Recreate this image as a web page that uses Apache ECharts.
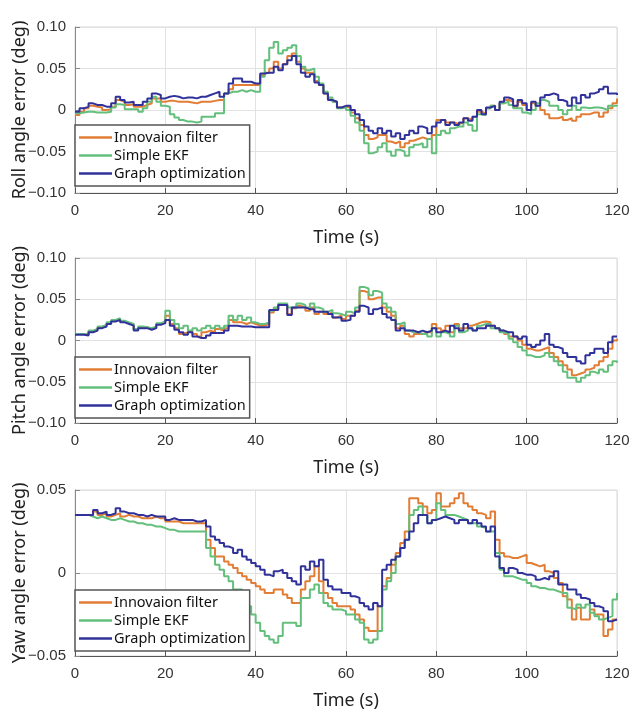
<!DOCTYPE html>
<html>
<head>
<meta charset="utf-8">
<script src="https://cdn.jsdelivr.net/npm/echarts@6/dist/echarts.min.js"></script>
<style>
  html, body { margin: 0; padding: 0; background: #fff; }
  #chart { width: 632px; height: 711px; }
</style>
</head>
<body>
<div id="chart"></div>
<script>
// time stamps (s), one sample per second
var times = [];
for (var i = 0; i <= 120; i++) times.push(i);

var seriesNames = ['Innovaion filter', 'Simple EKF', 'Graph optimization'];
var yTitles = ['Roll angle error (deg)', 'Pitch angle error (deg)', 'Yaw angle error (deg)'];

// roll
var rollInnov = [
  -0.006,-0.002,0.002,0.005,0.004,0.003,0.000,0.001,0.004,0.012,
  0.010,0.006,0.007,0.004,0.004,0.006,0.008,0.014,0.014,0.010,
  0.011,0.011,0.010,0.010,0.010,0.009,0.008,0.010,0.010,0.010,
  0.011,0.012,0.012,0.020,0.025,0.030,0.030,0.030,0.030,0.030,
  0.030,0.042,0.045,0.050,0.058,0.050,0.055,0.065,0.068,0.058,
  0.050,0.045,0.045,0.035,0.030,0.020,0.013,0.010,0.003,0.004,
  0.003,-0.003,-0.010,-0.018,-0.030,-0.035,-0.033,-0.030,-0.030,-0.038,
  -0.040,-0.038,-0.045,-0.040,-0.037,-0.035,-0.033,-0.035,-0.035,-0.030,
  -0.012,-0.012,-0.015,-0.015,-0.017,-0.015,-0.010,-0.012,-0.008,-0.002,
  -0.004,0.002,0.005,0.000,0.008,0.012,0.010,0.004,0.010,0.006,
  0.000,0.008,0.005,0.000,-0.005,-0.010,-0.010,-0.008,-0.012,-0.010,
  -0.013,-0.008,-0.005,-0.005,-0.003,-0.003,-0.008,-0.003,0.002,0.008,
  0.014
];
var rollEkf = [
  -0.004,-0.003,-0.002,-0.002,-0.003,-0.003,-0.003,-0.002,0.003,0.007,
  0.006,0.001,0.001,0.001,-0.002,0.002,0.010,0.016,0.010,0.005,
  0.004,-0.005,-0.009,-0.012,-0.014,-0.014,-0.015,-0.014,-0.008,-0.008,
  -0.008,-0.004,-0.004,0.020,0.022,0.022,0.024,0.022,0.024,0.022,
  0.022,0.040,0.060,0.075,0.082,0.068,0.072,0.075,0.078,0.065,
  0.052,0.048,0.050,0.040,0.032,0.022,0.015,0.010,0.002,0.003,
  0.000,-0.007,-0.015,-0.025,-0.040,-0.052,-0.050,-0.045,-0.040,-0.050,
  -0.055,-0.048,-0.050,-0.055,-0.045,-0.042,-0.040,-0.045,-0.035,-0.052,
  -0.030,-0.025,-0.028,-0.022,-0.020,-0.020,-0.015,-0.018,-0.025,-0.005,
  -0.006,0.002,0.005,0.000,0.008,0.010,0.006,0.002,0.002,-0.003,
  -0.005,0.000,0.008,0.012,0.010,0.005,0.005,0.000,-0.005,0.000,
  0.005,0.000,0.003,0.002,0.003,0.003,0.002,0.000,0.005,0.005,
  0.006
];
var rollGraph = [
  -0.002,0.002,0.004,0.008,0.006,0.006,0.004,0.004,0.008,0.016,
  0.012,0.009,0.010,0.006,0.006,0.010,0.014,0.020,0.018,0.014,
  0.016,0.017,0.016,0.014,0.015,0.015,0.014,0.016,0.016,0.018,
  0.020,0.022,0.016,0.020,0.032,0.038,0.038,0.034,0.034,0.032,
  0.032,0.044,0.045,0.045,0.052,0.048,0.055,0.060,0.065,0.055,
  0.045,0.040,0.043,0.033,0.030,0.020,0.012,0.010,0.003,0.005,
  0.005,0.000,-0.005,-0.012,-0.020,-0.025,-0.028,-0.022,-0.028,-0.025,
  -0.032,-0.028,-0.035,-0.030,-0.025,-0.028,-0.020,-0.022,-0.028,-0.020,
  -0.015,-0.012,-0.018,-0.015,-0.018,-0.015,-0.010,-0.013,-0.008,0.000,
  -0.005,0.003,0.005,0.000,0.010,0.015,0.013,0.005,0.012,0.008,
  0.000,0.010,0.005,0.015,0.018,0.020,0.018,0.012,0.010,0.005,
  0.015,0.008,0.018,0.015,0.020,0.022,0.025,0.028,0.020,0.020,
  0.018
];

// pitch
var pitchInnov = [
  0.008,0.008,0.007,0.011,0.013,0.016,0.018,0.021,0.024,0.026,
  0.023,0.021,0.019,0.013,0.016,0.016,0.014,0.016,0.020,0.022,
  0.030,0.020,0.015,0.008,0.010,0.012,0.008,0.005,0.010,0.012,
  0.010,0.014,0.012,0.015,0.025,0.022,0.022,0.020,0.022,0.020,
  0.018,0.018,0.020,0.034,0.038,0.043,0.043,0.032,0.039,0.042,
  0.040,0.036,0.040,0.032,0.035,0.032,0.034,0.028,0.030,0.026,
  0.030,0.030,0.036,0.060,0.058,0.050,0.052,0.052,0.040,0.035,
  0.030,0.015,0.018,0.008,0.005,0.008,0.008,0.010,0.010,0.020,
  0.015,0.012,0.018,0.010,0.020,0.015,0.015,0.018,0.020,0.022,
  0.023,0.022,0.018,0.015,0.012,0.008,0.005,0.005,0.000,-0.005,
  -0.010,-0.012,-0.012,-0.010,-0.008,-0.015,-0.020,-0.025,-0.030,-0.035,
  -0.042,-0.040,-0.038,-0.035,-0.033,-0.030,-0.025,-0.020,-0.010,0.000,
  0.002
];
var pitchEkf = [
  0.008,0.008,0.007,0.012,0.014,0.017,0.019,0.022,0.025,0.027,
  0.024,0.022,0.020,0.014,0.017,0.016,0.015,0.017,0.021,0.023,
  0.036,0.025,0.020,0.015,0.018,0.012,0.015,0.012,0.015,0.018,
  0.015,0.018,0.015,0.018,0.030,0.025,0.030,0.025,0.028,0.022,
  0.020,0.020,0.022,0.036,0.040,0.045,0.045,0.040,0.040,0.045,
  0.043,0.040,0.045,0.040,0.038,0.035,0.037,0.033,0.032,0.030,
  0.035,0.033,0.040,0.065,0.063,0.055,0.060,0.058,0.045,0.040,
  0.035,0.020,0.022,0.012,0.010,0.010,0.008,0.008,0.005,0.015,
  0.005,0.010,0.008,0.005,0.018,0.010,0.012,0.015,0.012,0.018,
  0.020,0.020,0.015,0.015,0.010,0.008,0.002,-0.002,-0.008,-0.012,
  -0.018,-0.020,-0.020,-0.018,-0.015,-0.020,-0.025,-0.030,-0.038,-0.045,
  -0.045,-0.050,-0.045,-0.042,-0.038,-0.040,-0.035,-0.038,-0.030,-0.025,
  -0.027
];
var pitchGraph = [
  0.007,0.007,0.006,0.010,0.012,0.015,0.017,0.020,0.023,0.025,
  0.022,0.020,0.018,0.012,0.015,0.015,0.013,0.015,0.019,0.021,
  0.025,0.018,0.013,0.010,0.007,0.010,0.005,0.003,0.003,0.006,
  0.009,0.009,0.009,0.012,0.018,0.018,0.017,0.017,0.017,0.016,
  0.016,0.016,0.016,0.037,0.037,0.043,0.043,0.031,0.040,0.040,
  0.040,0.038,0.038,0.035,0.035,0.035,0.032,0.028,0.028,0.024,
  0.025,0.030,0.035,0.042,0.040,0.032,0.038,0.040,0.032,0.028,
  0.025,0.012,0.015,0.012,0.012,0.010,0.012,0.010,0.012,0.015,
  0.010,0.012,0.010,0.018,0.015,0.012,0.020,0.015,0.012,0.015,
  0.015,0.018,0.018,0.015,0.012,0.010,0.010,0.005,0.002,0.005,
  -0.005,-0.008,-0.005,0.000,0.008,-0.005,-0.008,-0.010,-0.015,-0.020,
  -0.020,-0.025,-0.028,-0.018,-0.015,-0.010,-0.010,-0.015,-0.002,0.005,
  0.005
];

// yaw
var yawInnov = [
  0.035,0.035,0.035,0.035,0.037,0.035,0.036,0.034,0.035,0.036,
  0.034,0.035,0.034,0.034,0.033,0.033,0.033,0.034,0.033,0.033,
  0.031,0.031,0.031,0.030,0.030,0.030,0.030,0.030,0.030,0.020,
  0.015,0.010,0.010,0.007,0.005,0.003,0.000,-0.002,-0.004,-0.006,
  -0.008,-0.010,-0.012,-0.012,-0.010,-0.010,-0.013,-0.015,-0.018,-0.018,
  -0.010,-0.005,-0.002,0.004,-0.005,-0.012,-0.015,-0.018,-0.020,-0.020,
  -0.020,-0.022,-0.025,-0.028,-0.033,-0.035,-0.035,-0.020,-0.008,-0.003,
  0.005,0.012,0.018,0.025,0.045,0.045,0.042,0.040,0.036,0.038,
  0.048,0.040,0.040,0.042,0.045,0.048,0.042,0.040,0.038,0.036,
  0.035,0.033,0.037,0.020,0.012,0.010,0.009,0.009,0.010,0.011,
  0.006,0.005,0.004,0.005,0.001,0.000,-0.003,-0.006,-0.014,-0.016,
  -0.028,-0.021,-0.028,-0.028,-0.022,-0.025,-0.025,-0.038,-0.034,-0.028,
  -0.028
];
var yawEkf = [
  0.035,0.035,0.035,0.034,0.033,0.034,0.033,0.032,0.032,0.033,
  0.032,0.031,0.031,0.030,0.030,0.029,0.029,0.028,0.028,0.027,
  0.026,0.026,0.025,0.025,0.025,0.025,0.025,0.025,0.025,0.015,
  0.010,0.005,0.002,-0.002,-0.005,-0.010,-0.010,-0.015,-0.020,-0.025,
  -0.030,-0.035,-0.038,-0.040,-0.042,-0.038,-0.030,-0.030,-0.030,-0.032,
  -0.015,-0.015,-0.010,-0.007,-0.012,-0.018,-0.020,-0.022,-0.022,-0.023,
  -0.025,-0.025,-0.028,-0.030,-0.040,-0.042,-0.040,-0.035,-0.010,-0.005,
  0.000,0.010,0.015,0.020,0.035,0.038,0.040,0.035,0.030,0.032,
  0.042,0.038,0.035,0.035,0.034,0.033,0.032,0.030,0.030,0.028,
  0.027,0.025,0.025,0.012,0.002,-0.002,-0.002,-0.003,-0.004,-0.004,
  -0.006,-0.008,-0.009,-0.009,-0.010,-0.010,-0.011,-0.012,-0.012,-0.021,
  -0.022,-0.019,-0.021,-0.019,-0.024,-0.026,-0.028,-0.027,-0.026,-0.016,
  -0.012
];
var yawGraph = [
  0.035,0.035,0.035,0.035,0.038,0.036,0.037,0.035,0.036,0.039,
  0.037,0.036,0.036,0.035,0.035,0.034,0.035,0.034,0.034,0.034,
  0.032,0.033,0.032,0.032,0.032,0.032,0.031,0.031,0.032,0.028,
  0.022,0.020,0.018,0.016,0.015,0.012,0.014,0.010,0.008,0.006,
  0.004,0.002,-0.001,-0.002,0.001,0.002,0.000,-0.003,-0.005,-0.007,
  0.004,0.002,0.007,0.004,0.008,-0.004,-0.008,-0.010,-0.010,-0.012,
  -0.012,-0.014,-0.015,-0.018,-0.020,-0.022,-0.018,-0.020,0.002,0.005,
  0.008,0.010,0.015,0.020,0.025,0.030,0.035,0.035,0.030,0.032,
  0.033,0.034,0.033,0.032,0.030,0.032,0.032,0.030,0.032,0.030,
  0.028,0.025,0.028,0.010,0.003,0.000,0.003,0.002,0.000,-0.001,
  -0.001,-0.002,-0.004,-0.003,-0.004,-0.002,0.001,-0.007,-0.007,-0.010,
  -0.010,-0.013,-0.015,-0.016,-0.018,-0.020,-0.021,-0.023,-0.029,-0.028,
  -0.028
];

var panels = [
  [rollInnov, rollEkf, rollGraph],
  [pitchInnov, pitchEkf, pitchGraph],
  [yawInnov, yawEkf, yawGraph]
];
var yRanges = [[-0.1, 0.1], [-0.1, 0.1], [-0.05, 0.05]];

var colors = ['#E27D36', '#63BF7B', '#30329A'];
var gridTops = [27, 258, 490];
var gridHeights = [166, 165, 166];
var legendTops = [125, 357, 590];

function fmtY(v) {
  if (Math.abs(v) < 1e-9) return '0';
  var s = Math.abs(v).toFixed(2);
  return v < 0 ? '\u2212' + s : s;
}

function pairs(arr) {
  return arr.map(function (v, i) { return [times[i], v]; });
}

var grid = [], xAxis = [], yAxis = [], series = [], legend = [];
for (var p = 0; p < 3; p++) {
  grid.push({
    left: 75, width: 542, top: gridTops[p], height: gridHeights[p],
    containLabel: false, outerBoundsMode: 'none',
    show: true, borderColor: '#d8d8d8', borderWidth: 1, backgroundColor: '#fff'
  });
  xAxis.push({
    type: 'value', gridIndex: p, min: 0, max: 120, interval: 20,
    name: 'Time (s)', nameLocation: 'middle', nameGap: 36, nameMoveOverlap: false,
    nameTextStyle: { fontFamily: 'Noto Sans', fontSize: 18, color: '#222' },
    axisLine: { onZero: false, lineStyle: { color: '#555', width: 1.2 } },
    axisTick: { inside: true, length: 5, lineStyle: { color: '#555' } },
    axisLabel: { margin: 10, fontFamily: 'Liberation Sans', fontSize: 15, color: '#333' },
    splitLine: { show: true, lineStyle: { color: '#e2e2e2', width: 1 } }
  });
  yAxis.push({
    type: 'value', gridIndex: p, min: yRanges[p][0], max: yRanges[p][1], interval: 0.05,
    name: yTitles[p], nameLocation: 'middle', nameGap: 46, nameMoveOverlap: false,
    nameTextStyle: { fontFamily: 'Noto Sans', fontSize: 18, color: '#222' },
    axisLine: { show: true, lineStyle: { color: '#888', width: 1 } },
    axisTick: { show: true, inside: true, length: 5, lineStyle: { color: '#888' } },
    axisLabel: { margin: 9, fontFamily: 'Liberation Sans', fontSize: 15, color: '#333', formatter: fmtY },
    splitLine: { show: true, lineStyle: { color: '#e2e2e2', width: 1 } }
  });
  for (var s = 0; s < 3; s++) {
    series.push({
      name: seriesNames[s], type: 'line', step: 'end',
      xAxisIndex: p, yAxisIndex: p,
      data: pairs(panels[p][s]),
      showSymbol: false, animation: false,
      lineStyle: { color: colors[s], width: 2 },
      itemStyle: { color: colors[s] },
      z: 2 + s
    });
  }
  legend.push({
    data: seriesNames, orient: 'vertical', left: 75, top: legendTops[p],
    icon: 'rect', itemWidth: 33, itemHeight: 2.5, itemGap: 3,
    padding: [5, 4, 5, 4],
    backgroundColor: '#fff', borderColor: '#555', borderWidth: 1.5, borderRadius: 0,
    selectedMode: false, z: 10,
    textStyle: { fontFamily: 'Noto Sans', fontSize: 14.5, color: '#111', padding: [0, 0, 0, -3] }
  });
}

var chart = echarts.init(document.getElementById('chart'), null, { renderer: 'canvas' });
chart.setOption({
  backgroundColor: '#fff',
  animation: false,
  color: colors,
  grid: grid,
  xAxis: xAxis,
  yAxis: yAxis,
  legend: legend,
  series: series
});
</script>
</body>
</html>
